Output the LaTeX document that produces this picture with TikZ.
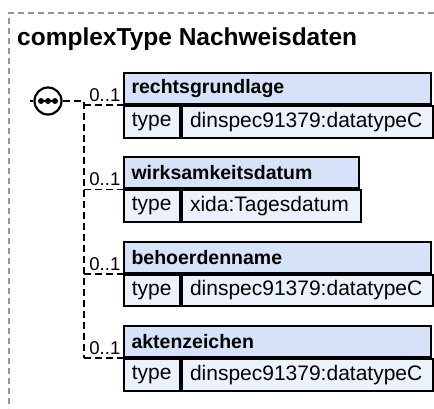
\documentclass[tikz,border=0pt]{standalone}
\usepackage{fontspec}
\setmainfont{Liberation Sans}
\usetikzlibrary{positioning}

\definecolor{headblue}{RGB}{214,226,248}
\definecolor{rowblue}{RGB}{236,242,252}
\definecolor{framegray}{RGB}{150,150,150}

\begin{document}
\begin{tikzpicture}
                [x=1pt, y=-1pt,
                frame/.style={
                    draw=framegray, line width=1.5pt, dash pattern=on 6pt off 4pt
                },
                link/.style={
                    draw, line width=1.6pt, dash pattern=on 7pt off 4pt
                },
                header/.style={
                    rectangle,
                    draw,
                    line width=2pt,
                    fill=headblue,
                    anchor=north west,
                    align=left,
                    minimum height=31pt,
                    inner xsep=8pt,
                    inner ysep=0pt,
                    font=\fontsize{19.5}{22}\selectfont\bfseries
                },
                cell/.style={
                    rectangle,
                    draw,
                    line width=2pt,
                    fill=rowblue,
                    anchor=north west,
                    minimum height=31.5pt,
                    inner xsep=8pt,
                    inner ysep=0pt,
                    font=\fontsize{21}{23}\selectfont
                },
                mult/.style={
                    font=\fontsize{18.5}{20}\selectfont, inner sep=1pt, anchor=south east
                },
                seq/.style={
                    circle, draw, line width=2.2pt, fill=white, minimum size=27pt, inner sep=0pt
                }
                ]

                \useasboundingbox (0,0) rectangle (434,408);

                % Frame of the complex type
                \coordinate (frameTR) at (434,13);
                \coordinate (frameTL) at (9,13);
                \coordinate (frameBL) at (9,408);
                \path [frame] (frameTR) -- (frameTL) -- (frameBL);

                \node[anchor=base west, inner sep=0pt, font=\fontsize{24.5}{28}\selectfont\bfseries] (title) at (17,45) {complexType Nachweisdaten};

                % Sequence compositor
                \node[seq] (seq) at (48,101) {};
                \draw [line width=2pt] ([xshift=-7pt]seq.center) -- ([xshift=7pt]seq.center);
                \foreach \dx in {-7,0,7}{
                    \fill ([xshift=\dx pt]seq.center) circle (3pt);
                }
                \coordinate (stub) at (30,101);
                \draw [line width=1.6pt] (stub) -- (seq.west);
                \coordinate (trunk) at (84,101);

                % Elements of the sequence
                \foreach \pos/\top/\name/\type/\hw/\vw in {
                    1/72/rechtsgrundlage/dinspec91379:datatypeC/291.5pt/235pt,
                    2/156.3/wirksamkeitsdatum/xida:Tagesdatum/219.5pt/163pt,
                    3/240.7/behoerdenname/dinspec91379:datatypeC/291.5pt/235pt,
                    4/325/aktenzeichen/dinspec91379:datatypeC/291.5pt/235pt}{
                    \node[header, text width=\hw] (elem\pos) at (122.5,\top) {\name};
                    \node[cell, minimum width=56.5pt] (type\pos) at (elem\pos.south west) {type};
                    \node[cell, text width=\vw, align=left] (val\pos) at (type\pos.north east) {\type};
                    \node[mult] (mult\pos) at ([xshift=-1pt,yshift=2pt]type\pos.north west) {0..1};

                    % Branch from the trunk
                    \path [link] (trunk |- type\pos.north west) -- (type\pos.north west);
                }
                \path [link] (seq.east) -- (trunk) -- (trunk |- type4.north west);
            \end{tikzpicture}
\end{document}
